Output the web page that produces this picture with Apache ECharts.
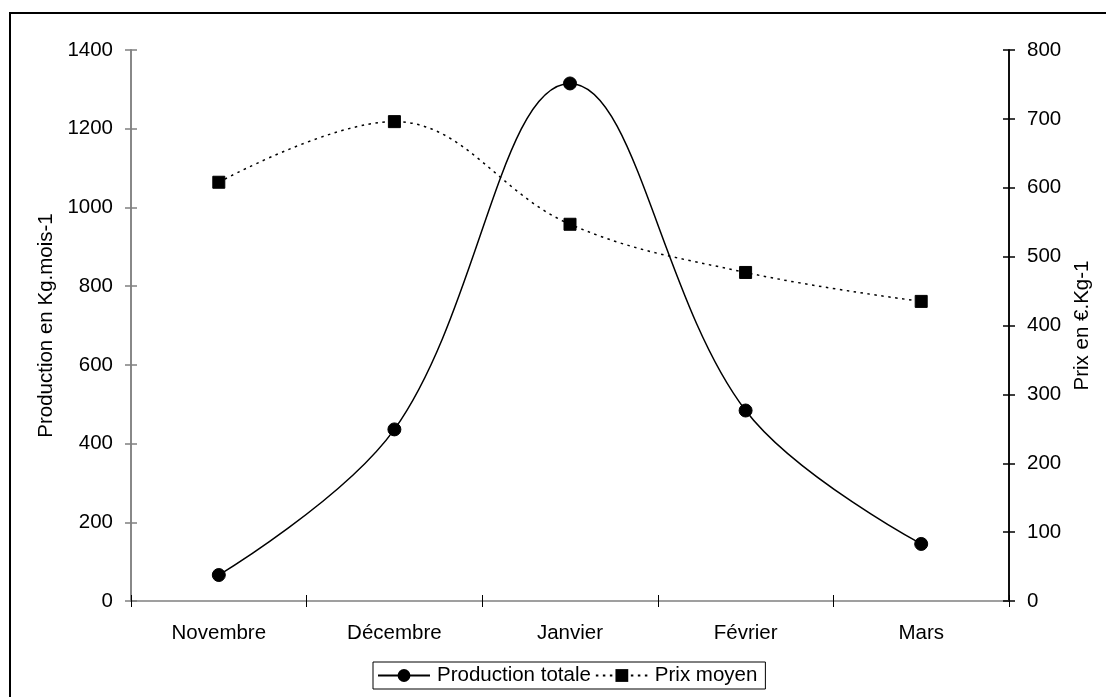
<!DOCTYPE html>
<html><head><meta charset="utf-8">
<script src="https://cdn.jsdelivr.net/npm/echarts@6/dist/echarts.min.js"></script>
<style>html,body{margin:0;padding:0;background:#fff}#c{width:1106px;height:697px}</style>
</head><body><div id="c"></div>
<script>
const categories = ['Novembre', 'Décembre', 'Janvier', 'Février', 'Mars'];
const productionTotale = [66, 436, 1315, 484, 145];
const prixMoyen = [608, 696, 547, 477, 435];
const leftTicks = {min: 0, max: 1400, interval: 200};
const rightTicks = {min: 0, max: 800, interval: 100};

const FONT = "'Liberation Sans', Arial, sans-serif";
const chart = echarts.init(document.getElementById('c'), null, {renderer: 'canvas'});
const lbl = {fontFamily: FONT, fontSize: 20.5, color: '#000'};

function yAx(pos, ticks, show, inside, color, extra) {
  return Object.assign({
    type: 'value', position: pos, min: ticks.min, max: ticks.max, interval: ticks.interval,
    splitLine: {show: false},
    axisLine: {show: true, lineStyle: {color: color, width: 1.5}},
    axisTick: {show: true, inside: inside, length: 6, lineStyle: {color: color, width: 1.5}},
    axisLabel: Object.assign({show: show, margin: 18, formatter: v => String(v)}, lbl)
  }, extra || {});
}

chart.setOption({
  animation: false,
  backgroundColor: '#fff',
  textStyle: {fontFamily: FONT},
  graphic: [{
    type: 'rect', shape: {x: 10, y: 13, width: 1300, height: 900},
    style: {fill: 'none', stroke: '#000', lineWidth: 2}, silent: true, z: -1
  }],
  grid: {left: 131, right: 97, top: 50, bottom: 96, containLabel: false},
  legend: {
    left: 373, top: 662,
    padding: [3, 8, 3, 4],
    borderColor: '#000', borderWidth: 1, borderRadius: 0,
    itemWidth: 52, itemHeight: 16, itemGap: 4,
    textStyle: Object.assign({padding: [0, 0, 0, 2]}, lbl),
    data: ['Production totale', 'Prix moyen']
  },
  xAxis: [{
    type: 'category', data: categories, boundaryGap: true,
    axisLine: {show: true, lineStyle: {color: '#808080', width: 1.5}},
    axisTick: {show: true, inside: false, length: 6, lineStyle: {color: '#000', width: 1}},
    axisLabel: Object.assign({margin: 22}, lbl),
    splitLine: {show: false}
  }, {
    type: 'category', data: categories, boundaryGap: true, position: 'bottom',
    axisLine: {show: false},
    axisTick: {show: true, inside: true, length: 6, lineStyle: {color: '#000', width: 1}},
    axisLabel: {show: false}, splitLine: {show: false}
  }],
  yAxis: [
    yAx('left', leftTicks, true, false, '#808080', {
      name: 'Production en Kg.mois-1', nameLocation: 'middle', nameRotate: 90, nameGap: 72,
      nameTextStyle: lbl
    }),
    yAx('right', rightTicks, true, false, '#000', {
      name: 'Prix en €.Kg-1', nameLocation: 'middle', nameRotate: 90, nameGap: 63,
      nameTextStyle: lbl
    }),
    yAx('left', leftTicks, false, true, '#808080'),
    yAx('right', rightTicks, false, true, '#000')
  ],
  series: [{
    name: 'Production totale', type: 'line', data: productionTotale,
    xAxisIndex: 0, yAxisIndex: 0, smooth: 0.38,
    symbol: 'circle', symbolSize: 13,
    lineStyle: {color: '#000', width: 1.5, type: 'solid'},
    itemStyle: {color: '#000', borderColor: '#000'}
  }, {
    name: 'Prix moyen', type: 'line', data: prixMoyen,
    xAxisIndex: 0, yAxisIndex: 1, smooth: 0.38,
    symbol: 'rect', symbolSize: 12,
    lineStyle: {color: '#000', width: 1.5, type: [2.5, 4.5]},
    itemStyle: {color: '#000', borderColor: '#000'}
  }]
});
</script></body></html>
